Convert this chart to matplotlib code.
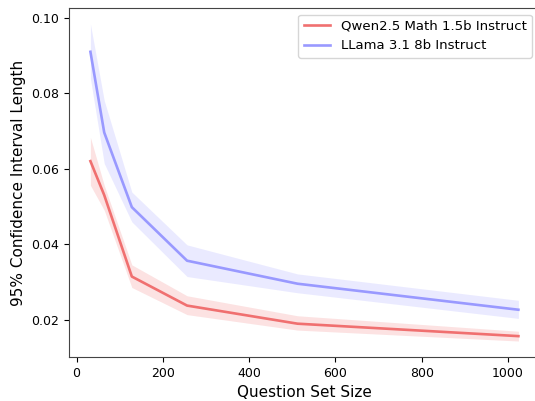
import matplotlib
matplotlib.use("Agg")
import matplotlib.pyplot as plt

sizes = [32, 64, 128, 256, 512, 1024]
qwen_mean = [0.0620, 0.0530, 0.0314, 0.0237, 0.0189, 0.0156]
qwen_low = [0.0556, 0.0490, 0.0285, 0.0213, 0.0172, 0.0143]
qwen_high = [0.0683, 0.0556, 0.0345, 0.0263, 0.0210, 0.0169]
llama_mean = [0.0910, 0.0696, 0.0498, 0.0356, 0.0295, 0.0226]
llama_low = [0.0839, 0.0614, 0.0459, 0.0314, 0.0271, 0.0203]
llama_high = [0.0984, 0.0781, 0.0538, 0.0398, 0.0321, 0.0251]

red = "#f07070"
blue = "#9999ff"

fig = plt.figure(figsize=(5.35, 4.01), dpi=100)
ax = fig.add_axes([0.129, 0.110, 0.880, 0.870])
ax.fill_between(sizes, qwen_low, qwen_high, color=red, alpha=0.2, linewidth=0)
ax.fill_between(sizes, llama_low, llama_high, color=blue, alpha=0.2, linewidth=0)
ax.plot(sizes, qwen_mean, color=red, lw=1.9, label="Qwen2.5 Math 1.5b Instruct")
ax.plot(sizes, llama_mean, color=blue, lw=1.9, label="LLama 3.1 8b Instruct")
ax.set_xlabel("Question Set Size", fontsize=11)
ax.set_ylabel("95% Confidence Interval Length", fontsize=11)
ax.tick_params(labelsize=9)
for s in ax.spines.values():
    s.set_color("#444444")
ax.spines["right"].set_visible(False)
ax.legend(loc="upper right", bbox_to_anchor=(0.997, 1.0), fontsize=9.5)
fig.savefig("out.png", dpi=100)
